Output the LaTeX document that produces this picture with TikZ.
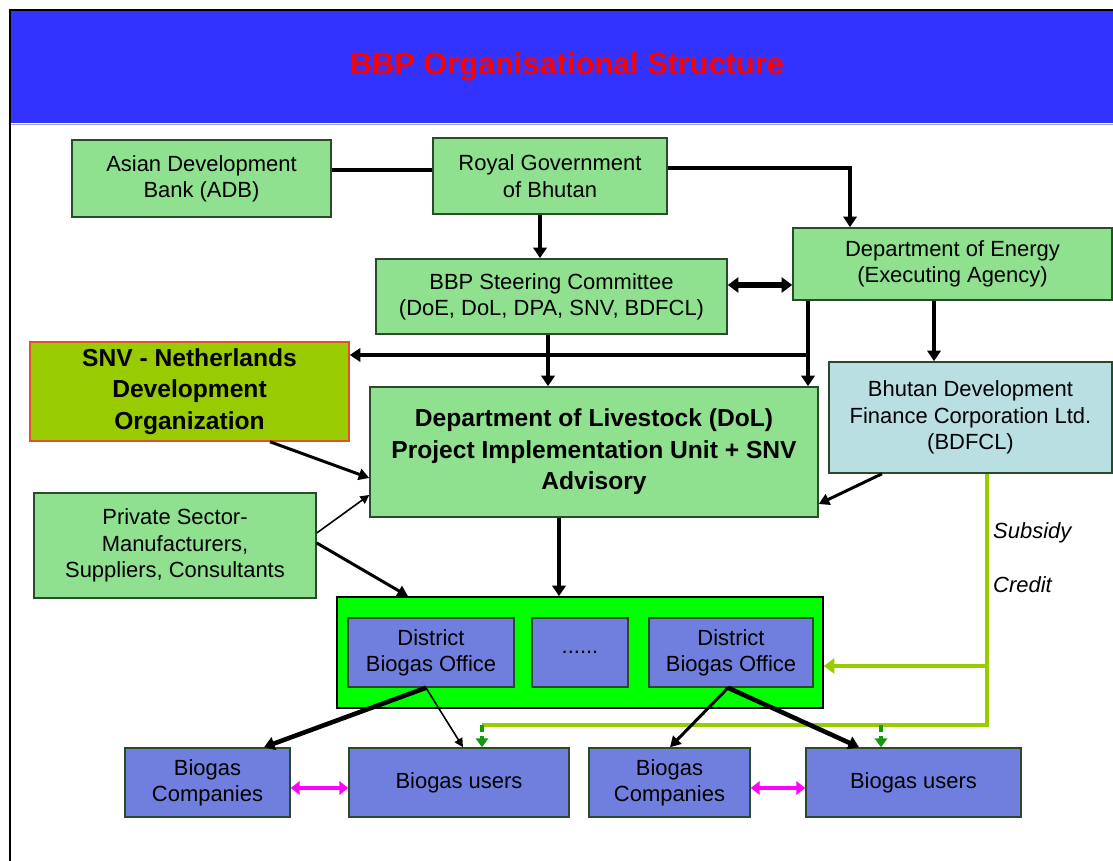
\documentclass[tikz,border=0pt]{standalone}
\usepackage{fontspec}
\setmainfont{Liberation Sans}
\usetikzlibrary{arrows.meta}
\definecolor{headblue}{HTML}{3333FF}
\definecolor{boxgreen}{HTML}{8FE08F}
\definecolor{boxline}{HTML}{2A4A2A}
\definecolor{snvgreen}{HTML}{99CC00}
\definecolor{snvline}{HTML}{E0502A}
\definecolor{bdfblue}{HTML}{B9DFE3}
\definecolor{distgreen}{HTML}{00FF00}
\definecolor{boxblue}{HTML}{707FDD}
\definecolor{creditgreen}{HTML}{99CC00}
\definecolor{dashgreen}{HTML}{119911}
\definecolor{linkpink}{HTML}{FF00FF}
\begin{document}
\begin{tikzpicture}[x=0.02cm,y=-0.02cm,font=\fontsize{12.5}{15}\selectfont]
% Box styles
\tikzstyle{box}=[draw=boxline,line width=0.9pt,align=center,inner sep=2pt];
\tikzstyle{green box}=[box,fill=boxgreen];
\tikzstyle{blue box}=[box,fill=boxblue,minimum height=1.38cm];
\tikzstyle{big text}=[font=\bfseries\fontsize{14}{18}\selectfont];
% Connector styles
\tikzstyle{heavy}=[line width=2.6pt,-{Triangle[length=6pt,width=7.5pt]}];
\tikzstyle{medium}=[line width=1.7pt,-{Triangle[length=6pt,width=6.5pt]}];
\tikzstyle{light}=[line width=0.9pt,-{Triangle[length=5pt,width=5pt]}];
\useasboundingbox (0,0) rectangle (1113,861);
% Frame and header
\fill[headblue] (10,10) rectangle (1113,123);
\draw[gray!70,line width=1pt] (10,124.5) -- (1113,124.5);
\draw[line width=1.6pt] (10,861) -- (10,10) -- (1113,10);
\node(title)[text=red,font=\bfseries\fontsize{17.5}{20}\selectfont] at (567,67) {BBP Organisational Structure};
% The Boxes
\node(adb)[green box,minimum width=5.18cm,minimum height=1.54cm] at (201.5,178.5) {Asian Development\\Bank (ADB)};
\node(rgob)[green box,minimum width=4.68cm,minimum height=1.52cm] at (550,176) {Royal Government\\of Bhutan};
\node(bsc)[green box,minimum width=7.02cm,minimum height=1.5cm] at (551.5,296.5) {BBP Steering Committee\\(DoE, DoL, DPA, SNV, BDFCL)};
\node(doe)[green box,minimum width=6.38cm,minimum height=1.44cm] at (952.5,264) {Department of Energy\\(Executing Agency)};
\node(snv)[box,big text,draw=snvline,fill=snvgreen,minimum width=6.38cm,minimum height=1.98cm] at (189.5,391.5) {SNV - Netherlands\\Development\\Organization};
\node(dol)[green box,big text,minimum width=8.96cm,minimum height=2.6cm] at (594,452) {Department of Livestock (DoL)\\Project Implementation Unit + SNV\\Advisory};
\node(bdfcl)[box,fill=bdfblue,minimum width=5.66cm,minimum height=2.22cm] at (970.5,417.5) {Bhutan Development\\Finance Corporation Ltd.\\(BDFCL)};
\node(priv)[green box,minimum width=5.64cm,minimum height=2.1cm] at (175,545.5) {Private Sector-\\Manufacturers,\\Suppliers, Consultants};
\node(dist)[box,draw=black,fill=distgreen,minimum width=9.72cm,minimum height=2.22cm] at (580,652.5) {};
\node(dbo1)[blue box,minimum width=3.32cm] at (431,652.5) {District\\Biogas Office};
\node(dots)[blue box,minimum width=1.92cm] at (580,652.5) {......};
\node(dbo2)[blue box,minimum width=3.28cm] at (731,652.5) {District\\Biogas Office};
\node(bc1)[blue box,minimum width=3.3cm] at (207.5,782.5) {Biogas\\Companies};
\node(bu1)[blue box,minimum width=4.4cm] at (459,782.5) {Biogas users};
\node(bc2)[blue box,minimum width=3.22cm] at (669.5,782.5) {Biogas\\Companies};
\node(bu2)[blue box,minimum width=4.3cm] at (913.5,782.5) {Biogas users};
% Top links
\draw[line width=2.6pt] (adb.east |- 0,170) -- (rgob.west |- 0,170);
\draw[heavy] (rgob.south -| 540,0) -- (bsc.north -| 540,0);
\draw[heavy] (rgob.east |- 0,168) -| (doe.north -| 850,0);
\draw[line width=3.6pt,{Triangle[length=6pt,width=8.5pt]}-{Triangle[length=6pt,width=8.5pt]}] (bsc.east |- 0,285) -- (doe.west |- 0,285);
\draw[heavy] (bsc.south -| 548,0) -- (dol.north -| 548,0);
\draw[heavy] (doe.south -| 808,0) -- (dol.north -| 808,0);
\coordinate(snvjoin) at (808,355);
\draw[heavy] (snvjoin) -- (snv.east |- snvjoin);
\draw[heavy] (doe.south -| 934,0) -- (bdfcl.north -| 934,0);
% Into the DoL
\draw[medium] (snv.south -| 270,0) -- (dol.west |- 0,478);
\draw[light] (priv.east |- 0,533) -- (dol.west |- 0,495);
\draw[medium] (bdfcl.south -| 882,0) -- (dol.east |- 0,504);
\draw[medium] (priv.east |- 0,543) -- (dist.north -| 408,0);
\draw[heavy] (dol.south -| 559,0) -- (dist.north -| 559,0);
% Subsidy and credit
\coordinate(gjoin) at (987,666);
\coordinate(gcorner) at (987,725);
\coordinate(gleft) at (482,725);
\coordinate(gright) at (881,725);
\draw[creditgreen,line width=2.6pt,-{Triangle[length=6pt,width=8.5pt]}] (bdfcl.south -| gjoin) -- (gjoin) -- (dist.east |- gjoin);
\draw[creditgreen,line width=2pt] (gjoin) -- (gcorner) -- (gleft);
\foreach \g/\u in {gleft/bu1,gright/bu2}
\draw[dashgreen,line width=2pt,dash pattern=on 4pt off 2pt,-{Triangle[length=5pt,width=7pt]}] (\g) -- (\u.north -| \g);
\node(subsidy)[anchor=west,font=\itshape\fontsize{12.5}{15}\selectfont] at (987,533) {Subsidy};
\node(credit)[anchor=west,font=\itshape\fontsize{12.5}{15}\selectfont] at (987,585) {Credit};
% Offices to companies and users
\draw[heavy] (dbo1.south -| 426,0) -- (bc1.north -| 264,0);
\draw[light] (dbo1.south -| 426,0) -- (bu1.north -| 463,0);
\draw[medium] (dbo2.south -| 728,0) -- (bc2.north -| 670,0);
\draw[heavy] (dbo2.south -| 728,0) -- (bu2.north -| 859,0);
\foreach \c/\u in {bc1/bu1,bc2/bu2}
\draw[linkpink,line width=2.4pt,{Triangle[length=5pt,width=7.5pt]}-{Triangle[length=5pt,width=7.5pt]}] (\c.east |- 0,788) -- (\u.west |- 0,788);
\end{tikzpicture}
\end{document}
